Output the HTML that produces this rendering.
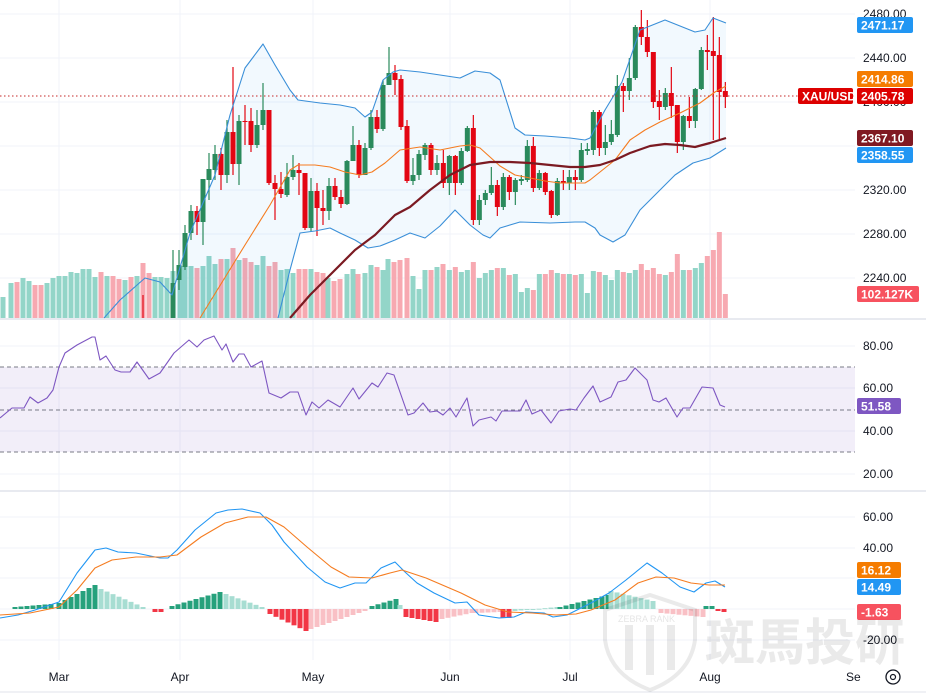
<!DOCTYPE html>
<html><head><meta charset="utf-8"><style>
body{margin:0;background:#fff;width:926px;height:695px;overflow:hidden;font-family:"Liberation Sans","Noto Sans CJK SC",sans-serif}
svg text{font-family:"Liberation Sans","Noto Sans CJK SC",sans-serif}
</style></head><body>
<svg id="s" width="926" height="695" xmlns="http://www.w3.org/2000/svg"></svg>
<script>
const s=document.getElementById('s');let h='';
function L(x1,y1,x2,y2,c,w,extra){h+=`<line x1="${x1}" y1="${y1}" x2="${x2}" y2="${y2}" stroke="${c}" stroke-width="${w||1}" ${extra||''}/>`}
function R(x,y,w,hh,c,extra){h+=`<rect x="${x}" y="${y}" width="${w}" height="${hh}" fill="${c}" ${extra||''}/>`}
function T(x,y,t,c,sz,extra){h+=`<text x="${x}" y="${y}" fill="${c}" font-size="${sz||12}" ${extra||''}>${t}</text>`}
function P(pts,c,w,extra){h+=`<polyline points="${pts.map(p=>p.join(',')).join(' ')}" fill="none" stroke="${c}" stroke-width="${w||1}" stroke-linejoin="round" ${extra||''}/>`}
const months=[[59,'Mar'],[180,'Apr'],[313,'May'],[450,'Jun'],[570,'Jul'],[710,'Aug']];
months.forEach(m=>L(m[0],0,m[0],660,'#f0f3fa'));
[14,58,102,146,190,234,278].forEach(y=>L(0,y,855,y,'#f0f3fa'));
[346,388,431,474].forEach(y=>L(0,y,855,y,'#f0f3fa'));
[517,548,578,609,640].forEach(y=>L(0,y,855,y,'#f0f3fa'));
const v1=[[3,297,'g'],[11,283,'g'],[17,282,'r'],[23,278,'g'],[29,281,'g'],[35,285,'r'],[41,285,'r'],[47,283,'g'],[53,278,'g'],[59,276,'g'],[65,276,'g'],[71,272,'g'],[77,273,'g'],[83,269,'g'],[89,269,'g'],[95,277,'g'],[101,272,'r'],[107,276,'g'],[113,276,'r'],[119,279,'r'],[125,280,'g'],[131,277,'r'],[137,276,'g'],[143,263,'r'],[149,273,'r'],[155,277,'g'],[161,277,'g'],[167,278,'g'],[173,271,'g'],[180,266,'g'],[185,266,'g'],[191,266,'g'],[197,268,'r'],[203,266,'g'],[209,256,'g'],[215,264,'g'],[221,259,'r'],[227,259,'g'],[233,248,'r'],[239,260,'g'],[245,258,'r'],[251,262,'r'],[257,265,'g'],[263,256,'g'],[269,266,'r'],[275,262,'r'],[281,270,'g'],[287,269,'g'],[293,273,'g'],[299,269,'r'],[305,269,'r'],[311,269,'g'],[317,272,'r'],[323,273,'r'],[328,278,'g'],[334,281,'r'],[340,279,'r'],[347,274,'g'],[353,269,'g'],[358,274,'r'],[365,273,'g'],[371,265,'g'],[377,267,'r'],[383,270,'g'],[388,259,'g'],[394,262,'r'],[400,260,'r'],[407,258,'r'],[413,276,'g'],[419,289,'g'],[425,270,'g'],[431,270,'r'],[437,267,'g'],[443,264,'r']];
const z3=[[28,270,'g'],[46,267,'r'],[64,272,'g'],[82,270,'g'],[100,262,'r'],[118,278,'g'],[136,273,'g'],[154,270,'g'],[172,268,'r'],[190,268,'g'],[208,275,'r'],[226,274,'g'],[244,292,'g'],[262,288,'g'],[280,290,'r'],[298,274,'g'],[316,274,'r'],[334,270,'r'],[352,273,'g'],[370,274,'r'],[388,274,'g'],[406,275,'r'],[424,274,'g'],[442,293,'g'],[460,271,'g'],[478,272,'r'],[496,275,'g'],[514,280,'g'],[532,270,'g'],[550,272,'r'],[568,273,'g'],[586,270,'g'],[604,264,'r'],[622,270,'r'],[640,268,'r'],[658,274,'r'],[676,275,'g'],[694,272,'r'],[712,254,'r'],[730,270,'g'],[748,270,'r'],[766,268,'g'],[784,263,'g'],[802,256,'r'],[820,250,'r'],[838,232,'r'],[856,294,'r']];
const vols=v1.concat(z3.map(a=>[440+a[0]/3,a[1],a[2]]));
vols.forEach(v=>R(v[0]-2.5,v[1],5,318-v[1],v[2]=='g'?'#93d5c8':'#f7a9b1'));
const up=[[104,318],[120,300],[145,278],[160,282],[172,295],[190,233],[215,175],[230,115],[245,68],[263,44],[275,65],[290,90],[298,100],[320,103],[340,105],[355,108],[365,117],[372,112],[383,80],[393,72],[400,70],[420,72],[440,75],[460,78],[475,71],[490,73],[500,80],[515,128],[525,135],[545,136],[570,138],[585,140],[590,138],[605,110],[622,82],[640,30],[665,20],[695,32],[705,30],[713,18],[726,23]];
const lo=[[278,318],[290,270],[300,233],[315,231],[330,228],[340,233],[355,240],[368,248],[380,246],[395,240],[410,233],[425,238],[440,226],[455,210],[470,225],[483,235],[490,238],[500,228],[520,222],[550,223],[575,222],[585,222],[595,228],[600,235],[613,242],[625,235],[640,210],[660,190],[675,175],[693,163],[710,158],[726,148]];
let fill=up.filter(p=>p[0]>=172).concat(lo.slice().reverse()).concat([[172,318]]);
h+=`<polygon points="${fill.map(p=>p.join(',')).join(' ')}" fill="#2196f3" fill-opacity="0.06"/>`;
const c2=[[173,283,318,250,318,'g'],[179,265,280,250,290,'g'],[185,233,267,225,270,'g'],[191,211,233,205,240,'g'],[197,211,222,206,235,'r'],[203,179,222,179,245,'g'],[209,169,180,153,200,'g'],[215,154,170,145,180,'g'],[221,154,175,148,190,'r'],[227,132,175,120,183,'g'],[233,132,164,67,175,'r'],[239,121,164,115,185,'g'],[245,121,122,105,145,'r'],[251,121,145,108,152,'r'],[257,125,145,110,148,'g'],[263,110,125,83,130,'g'],[269,110,183,110,185,'r'],[275,183,189,175,220,'r'],[281,189,194,172,198,'r'],[287,177,195,163,197,'g'],[293,170,177,155,180,'g'],[299,170,173,163,195,'r'],[305,173,228,173,230,'r'],[311,191,228,178,232,'g'],[317,191,208,183,236,'r'],[323,208,211,190,225,'r'],[329,186,211,178,220,'g'],[335,186,197,178,200,'r'],[341,197,204,190,208,'r'],[347,161,204,160,205,'g'],[353,145,161,126,160,'g'],[359,145,175,140,178,'r'],[365,148,175,143,175,'g'],[371,117,148,110,150,'g'],[377,117,129,110,133,'r'],[383,85,129,80,131,'g'],[389,73,85,47,85,'g'],[395,73,80,65,95,'r'],[401,79,127,75,130,'r'],[407,126,181,120,183,'r'],[413,175,181,158,185,'g'],[419,154,175,150,180,'g'],[425,145,155,143,160,'g'],[431,145,170,143,175,'r'],[437,163,170,155,175,'g']];
const c3=[[10,163,183,150,188,'r'],[28,156,183,155,195,'g'],[46,156,183,155,195,'r'],[64,151,183,148,185,'g'],[82,128,151,126,152,'g'],[100,128,220,115,225,'r'],[118,200,220,195,225,'g'],[136,193,200,190,205,'g'],[154,185,193,167,195,'g'],[172,185,207,180,216,'r'],[190,177,207,173,210,'g'],[208,177,192,175,200,'r'],[226,180,192,178,205,'g'],[244,179,181,175,185,'g'],[262,146,180,140,182,'g'],[280,146,188,137,192,'r'],[298,173,188,170,190,'g'],[316,173,192,172,195,'r'],[334,191,215,190,218,'r'],[352,181,215,178,216,'g'],[370,181,183,170,190,'r'],[388,177,183,170,190,'g'],[406,177,180,170,190,'r'],[424,150,180,143,182,'g'],[442,149,151,143,155,'g'],[460,112,150,110,155,'g'],[478,112,148,110,156,'r'],[496,142,148,125,155,'g'],[514,134,142,120,145,'g'],[532,86,135,75,137,'g'],[550,86,91,83,112,'r'],[568,78,91,58,100,'g'],[586,27,78,25,80,'g'],[604,27,37,10,45,'r'],[622,37,52,20,57,'r'],[640,52,102,52,108,'r'],[658,101,107,90,120,'r'],[676,93,107,88,110,'g'],[694,93,106,67,118,'r'],[712,105,142,105,153,'r'],[730,116,142,115,150,'g'],[748,116,121,97,128,'r'],[766,89,121,88,128,'g'],[784,50,89,47,90,'g'],[802,50,52,35,70,'r'],[820,51,56,17,140,'r'],[838,55,92,37,140,'r'],[856,91,97,82,108,'r']];
const cs=c2.concat(c3.map(a=>[440+a[0]/3,a[1],a[2],a[3],a[4],a[5]]));
L(143,295,143,318,'#e30613',1.2);
cs.forEach(c=>{const col=c[5]=='g'?'#2a8a5c':'#e30613';L(c[0],c[3],c[0],Math.min(c[4],318),col,1.2);R(c[0]-2.5,c[1],5,Math.max(1,Math.min(c[2],318)-c[1]),col);});
P(up,'#3a8fd8',1.1);P(lo,'#3a8fd8',1.1);
P([[200,318],[245,245],[270,205],[290,170],[298,165],[315,165],[330,167],[345,172],[360,175],[372,172],[385,163],[400,150],[420,147],[440,150],[460,146],[470,145],[480,148],[490,157],[500,166],[515,175],[530,178],[545,181],[560,183],[575,183],[585,183],[590,180],[600,172],[615,160],[630,140],[645,130],[660,122],[680,113],[700,103],[715,92],[726,86]],'#f57c20',1.1);
P([[290,318],[310,295],[330,275],[355,250],[375,235],[395,215],[410,207],[430,190],[450,175],[470,165],[490,162],[510,162],[530,163],[550,165],[570,167],[585,167],[600,165],[615,160],[630,153],[650,146],[665,144],[680,145],[695,147],[710,143],[726,138]],'#7b1a22',2.2);
L(0,96,855,96,'#c62828',1,'stroke-dasharray="1.5,2.5"');
L(0,319,926,319,'#e0e3eb',1.5);L(0,491,926,491,'#e0e3eb',1.5);L(0,692,926,692,'#e0e3eb',1);
R(0,367,855,85,'#7e57c2','fill-opacity="0.1"');
[367,410,452].forEach(y=>L(0,y,855,y,'#787b86',1,'stroke-dasharray="4,3"'));
P([[0,418],[12,408],[24,408],[30,397],[38,403],[47,398],[53,390],[59,367],[65,353],[77,345],[92,337],[95,337],[100,360],[106,356],[115,370],[121,372],[130,372],[137,362],[149,379],[160,373],[174,353],[189,340],[197,347],[204,340],[214,336],[222,350],[226,344],[233,362],[239,354],[244,354],[251,367],[262,361],[269,393],[281,398],[290,392],[298,392],[306,415],[312,402],[319,408],[328,400],[340,407],[353,388],[359,399],[372,383],[378,387],[387,373],[394,375],[408,415],[414,413],[423,403],[430,412],[437,411],[443,415],[450,408],[456,417],[467,398],[473,426],[479,420],[491,417],[496,421],[502,411],[508,411],[520,411],[526,400],[532,414],[541,410],[551,423],[559,411],[570,409],[576,410],[584,398],[593,386],[600,402],[611,397],[618,382],[626,380],[635,368],[647,380],[653,400],[659,402],[666,398],[677,417],[683,408],[690,408],[702,387],[713,388],[720,405],[725,407]],'#7e57c2',1.1);
const hb=[];
function seg(xa,xb,ha,hb2,col){const n=Math.round((xb-xa)/6);for(let i=0;i<=n;i++){const x=xa+i*6;const v=ha+(hb2-ha)*(n?i/n:0);hb.push([x,v,col]);}}
const GD='#26a17c',GL='#a7ddd2',RD='#f23645',RL='#f9c0c5';
seg(15,53,2,5,GD);seg(59,95,6,24,GD);seg(101,143,20,2,GL);hb.push([155,-3,RD],[161,-3,RD]);
seg(172,220,3,17,GD);seg(226,262,15,2,GL);seg(270,305,-5,-22,RD);seg(311,365,-20,-2,RL);
seg(372,394,3,10,GD);hb.push([400,4,GL]);seg(406,436,-8,-13,RD);seg(442,470,-10,-4,RL);seg(476,500,-4,-3,RL);hb.push([503,-9,RD],[509,-9,RD]);
seg(515,555,-2,2,GL);seg(560,605,2,14,GD);seg(611,655,18,8,GL);seg(661,700,-4,-8,RL);hb.push([706,3,GD],[712,3,GD],[718,-2,RD],[724,-3,RD]);
hb.forEach(b=>{const y=b[1]>0?609-b[1]:609;R(b[0]-2.5,y,5,Math.max(1,Math.abs(b[1])),b[2]);});
P([[0,618],[18,615],[35,610],[59,602],[77,573],[95,550],[106,548],[118,552],[136,553],[160,558],[168,558],[177,550],[195,530],[216,513],[228,510],[242,509],[260,513],[272,525],[284,542],[307,567],[325,582],[340,588],[355,583],[366,583],[381,568],[395,562],[405,572],[417,583],[434,593],[455,603],[467,602],[479,615],[499,618],[514,617],[526,612],[544,613],[553,617],[567,615],[591,603],[609,593],[626,580],[647,563],[662,573],[680,587],[694,592],[706,583],[715,581],[725,587]],'#2196f3',1.1);
P([[0,615],[30,613],[59,607],[77,590],[95,568],[112,560],[136,557],[160,557],[177,555],[201,537],[225,523],[248,517],[266,517],[284,527],[307,547],[331,567],[349,577],[372,578],[390,573],[402,570],[426,578],[461,593],[485,605],[508,612],[532,613],[556,615],[576,614],[591,610],[615,600],[638,583],[656,577],[674,578],[691,583],[709,585],[725,585]],'#f57c20',1.1);
[[2440,62],[2400,106],[2320,194],[2280,238],[2240,282]].forEach(a=>T(863,a[1],a[0].toFixed(2),'#131722',12));
T(863,18,'2480.00','#131722',12);
[['80.00',350],['60.00',392],['40.00',435],['20.00',478],['60.00',521],['40.00',552],['-20.00',644]].forEach(a=>T(863,a[1],a[0],'#131722',12));
function lab(x,y,w,t,c){R(x,y,w,16,c,'rx="2"');T(x+4,y+12.5,t,'#fff',12,'font-weight="bold"');}
lab(857,17,56,'2471.17','#2196f3');lab(857,71,56,'2414.86','#f57c00');lab(798,88,55,'XAU/USD','#dd0000');lab(857,88,56,'2405.78','#dd0000');
lab(857,130,56,'2367.10','#801922');lab(857,147,56,'2358.55','#2196f3');lab(857,286,62,'102.127K','#f7525f');
lab(857,398,44,'51.58','#7e57c2');lab(857,562,44,'16.12','#f57c00');lab(857,579,44,'14.49','#2196f3');lab(857,604,44,'-1.63','#f7525f');
months.forEach(m=>T(m[0],681,m[1],'#131722',12,'text-anchor="middle"'));T(846,681,'Se','#131722',12);
h+=`<circle cx="893" cy="677" r="7" fill="none" stroke="#131722" stroke-width="1.3"/><circle cx="893" cy="677" r="2.5" fill="none" stroke="#131722" stroke-width="1.2"/>`;
h+=`<g opacity="0.08"><path d="M605 610 L650 595 L695 610 L695 640 Q690 675 650 690 Q610 675 605 640 Z" fill="none" stroke="#000" stroke-width="4"/><rect x="625" y="625" width="8" height="45" fill="#000"/><rect x="646" y="625" width="8" height="50" fill="#000"/><rect x="667" y="625" width="8" height="45" fill="#000"/></g>`;
T(705,660,'斑馬投研','#000',50,'opacity="0.08" font-weight="bold" textLength="200" lengthAdjust="spacingAndGlyphs"');
T(618,622,'ZEBRA RANK','#000',9,'opacity="0.1"');
s.innerHTML=h;
</script>
</body></html>
